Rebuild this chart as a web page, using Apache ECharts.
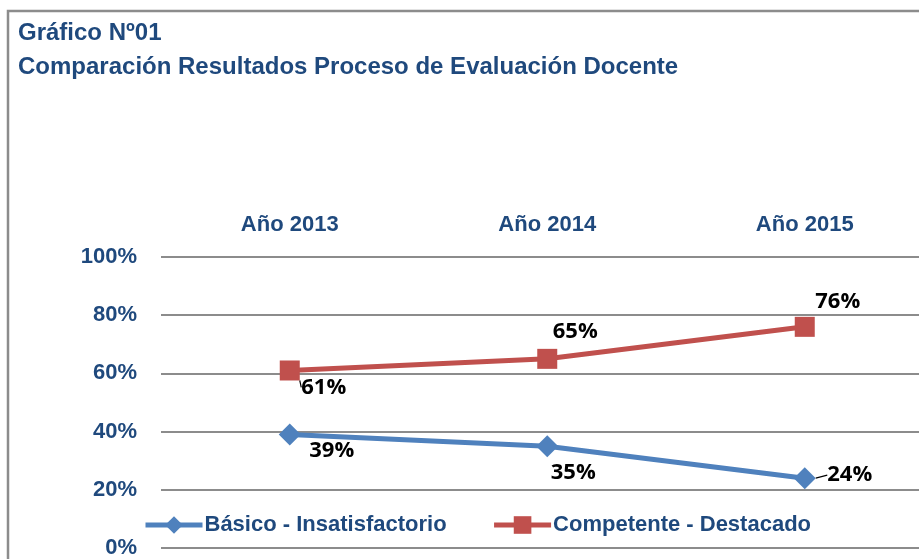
<!DOCTYPE html>
<html><head><meta charset="utf-8">
<script src="https://cdn.jsdelivr.net/npm/echarts@6/dist/echarts.min.js"></script>
<style>html,body{margin:0;padding:0;background:#fff}#c{width:919px;height:559px}</style>
</head><body><div id="c"></div>
<script>
const categories = ['Año 2013', 'Año 2014', 'Año 2015'];
const basico = [39, 35, 24];
const competente = [61, 65, 76];
const yTicks = [0, 20, 40, 60, 80, 100];
const seriesNames = ['Básico - Insatisfactorio', 'Competente - Destacado'];

const basicoLabelOffsets = [[42, 16], [26, 27], [45, -3]];
const competenteLabelOffsets = [[34, 17], [28, -27], [33, -25]];
const basicoLeader = [false, false, true];
const competenteLeader = [true, false, false];

const FONT = '"Liberation Sans", Arial, sans-serif';
const NAVY = '#1F497D';

function mk(vals, offs, leaders) {
  return vals.map((v, i) => ({
    value: v,
    label: { offset: offs[i] },
    labelLine: { show: leaders[i], lineStyle: { color: '#000', width: 1.2 } }
  }));
}
const labelStyle = {
  show: true, position: 'inside', align: 'center', verticalAlign: 'middle',
  formatter: p => p.value + '%',
  fontFamily: '"Open Sans", "Liberation Sans", sans-serif', fontWeight: 'bold', fontSize: 22, color: '#000'
};

const chart = echarts.init(document.getElementById('c'), null, { renderer: 'canvas' });
chart.setOption({
  animation: false,
  backgroundColor: '#fff',
  graphic: [{
    type: 'rect', shape: { x: 8, y: 11, width: 940, height: 600 },
    style: { fill: 'none', stroke: '#8c8c8c', lineWidth: 2.5 }, silent: true
  }],
  title: {
    text: 'Gráfico Nº01\nComparación Resultados Proceso de Evaluación Docente',
    left: 18, top: 16, padding: 0,
    textStyle: { fontFamily: FONT, fontWeight: 'bold', fontSize: 24, color: NAVY, lineHeight: 34 }
  },
  legend: {
    data: seriesNames, left: 143, top: 514, itemWidth: 57, itemHeight: 22, itemGap: 45, padding: 0,
    lineStyle: { width: 5 },
    textStyle: { fontFamily: FONT, fontWeight: 'bold', fontSize: 22, color: NAVY, padding: [0, 0, 0, -3] }
  },
  grid: { left: 161, width: 772.5, top: 257, bottom: 11, outerBoundsMode: 'none', containLabel: false },
  xAxis: {
    type: 'category', data: categories, position: 'top', boundaryGap: true,
    axisLine: { show: false }, axisTick: { show: false },
    axisLabel: { margin: 21, fontFamily: FONT, fontWeight: 'bold', fontSize: 22, color: NAVY }
  },
  yAxis: {
    type: 'value', min: 0, max: 100, interval: 20,
    axisLine: { show: false }, axisTick: { show: false },
    splitLine: { lineStyle: { color: '#8c8c8c', width: 2 } },
    axisLabel: { margin: 24, formatter: v => yTicks.includes(v) ? v + '%' : '', fontFamily: FONT, fontWeight: 'bold', fontSize: 22, color: NAVY }
  },
  series: [
    {
      name: seriesNames[0], type: 'line', data: mk(basico, basicoLabelOffsets, basicoLeader),
      symbol: 'diamond', symbolSize: 22, lineStyle: { width: 5, color: '#4F81BD' },
      itemStyle: { color: '#4F81BD' }, label: labelStyle
    },
    {
      name: seriesNames[1], type: 'line', data: mk(competente, competenteLabelOffsets, competenteLeader),
      symbol: 'rect', symbolSize: 20, lineStyle: { width: 5, color: '#C0504D' },
      itemStyle: { color: '#C0504D' }, label: labelStyle
    }
  ]
});
</script></body></html>
